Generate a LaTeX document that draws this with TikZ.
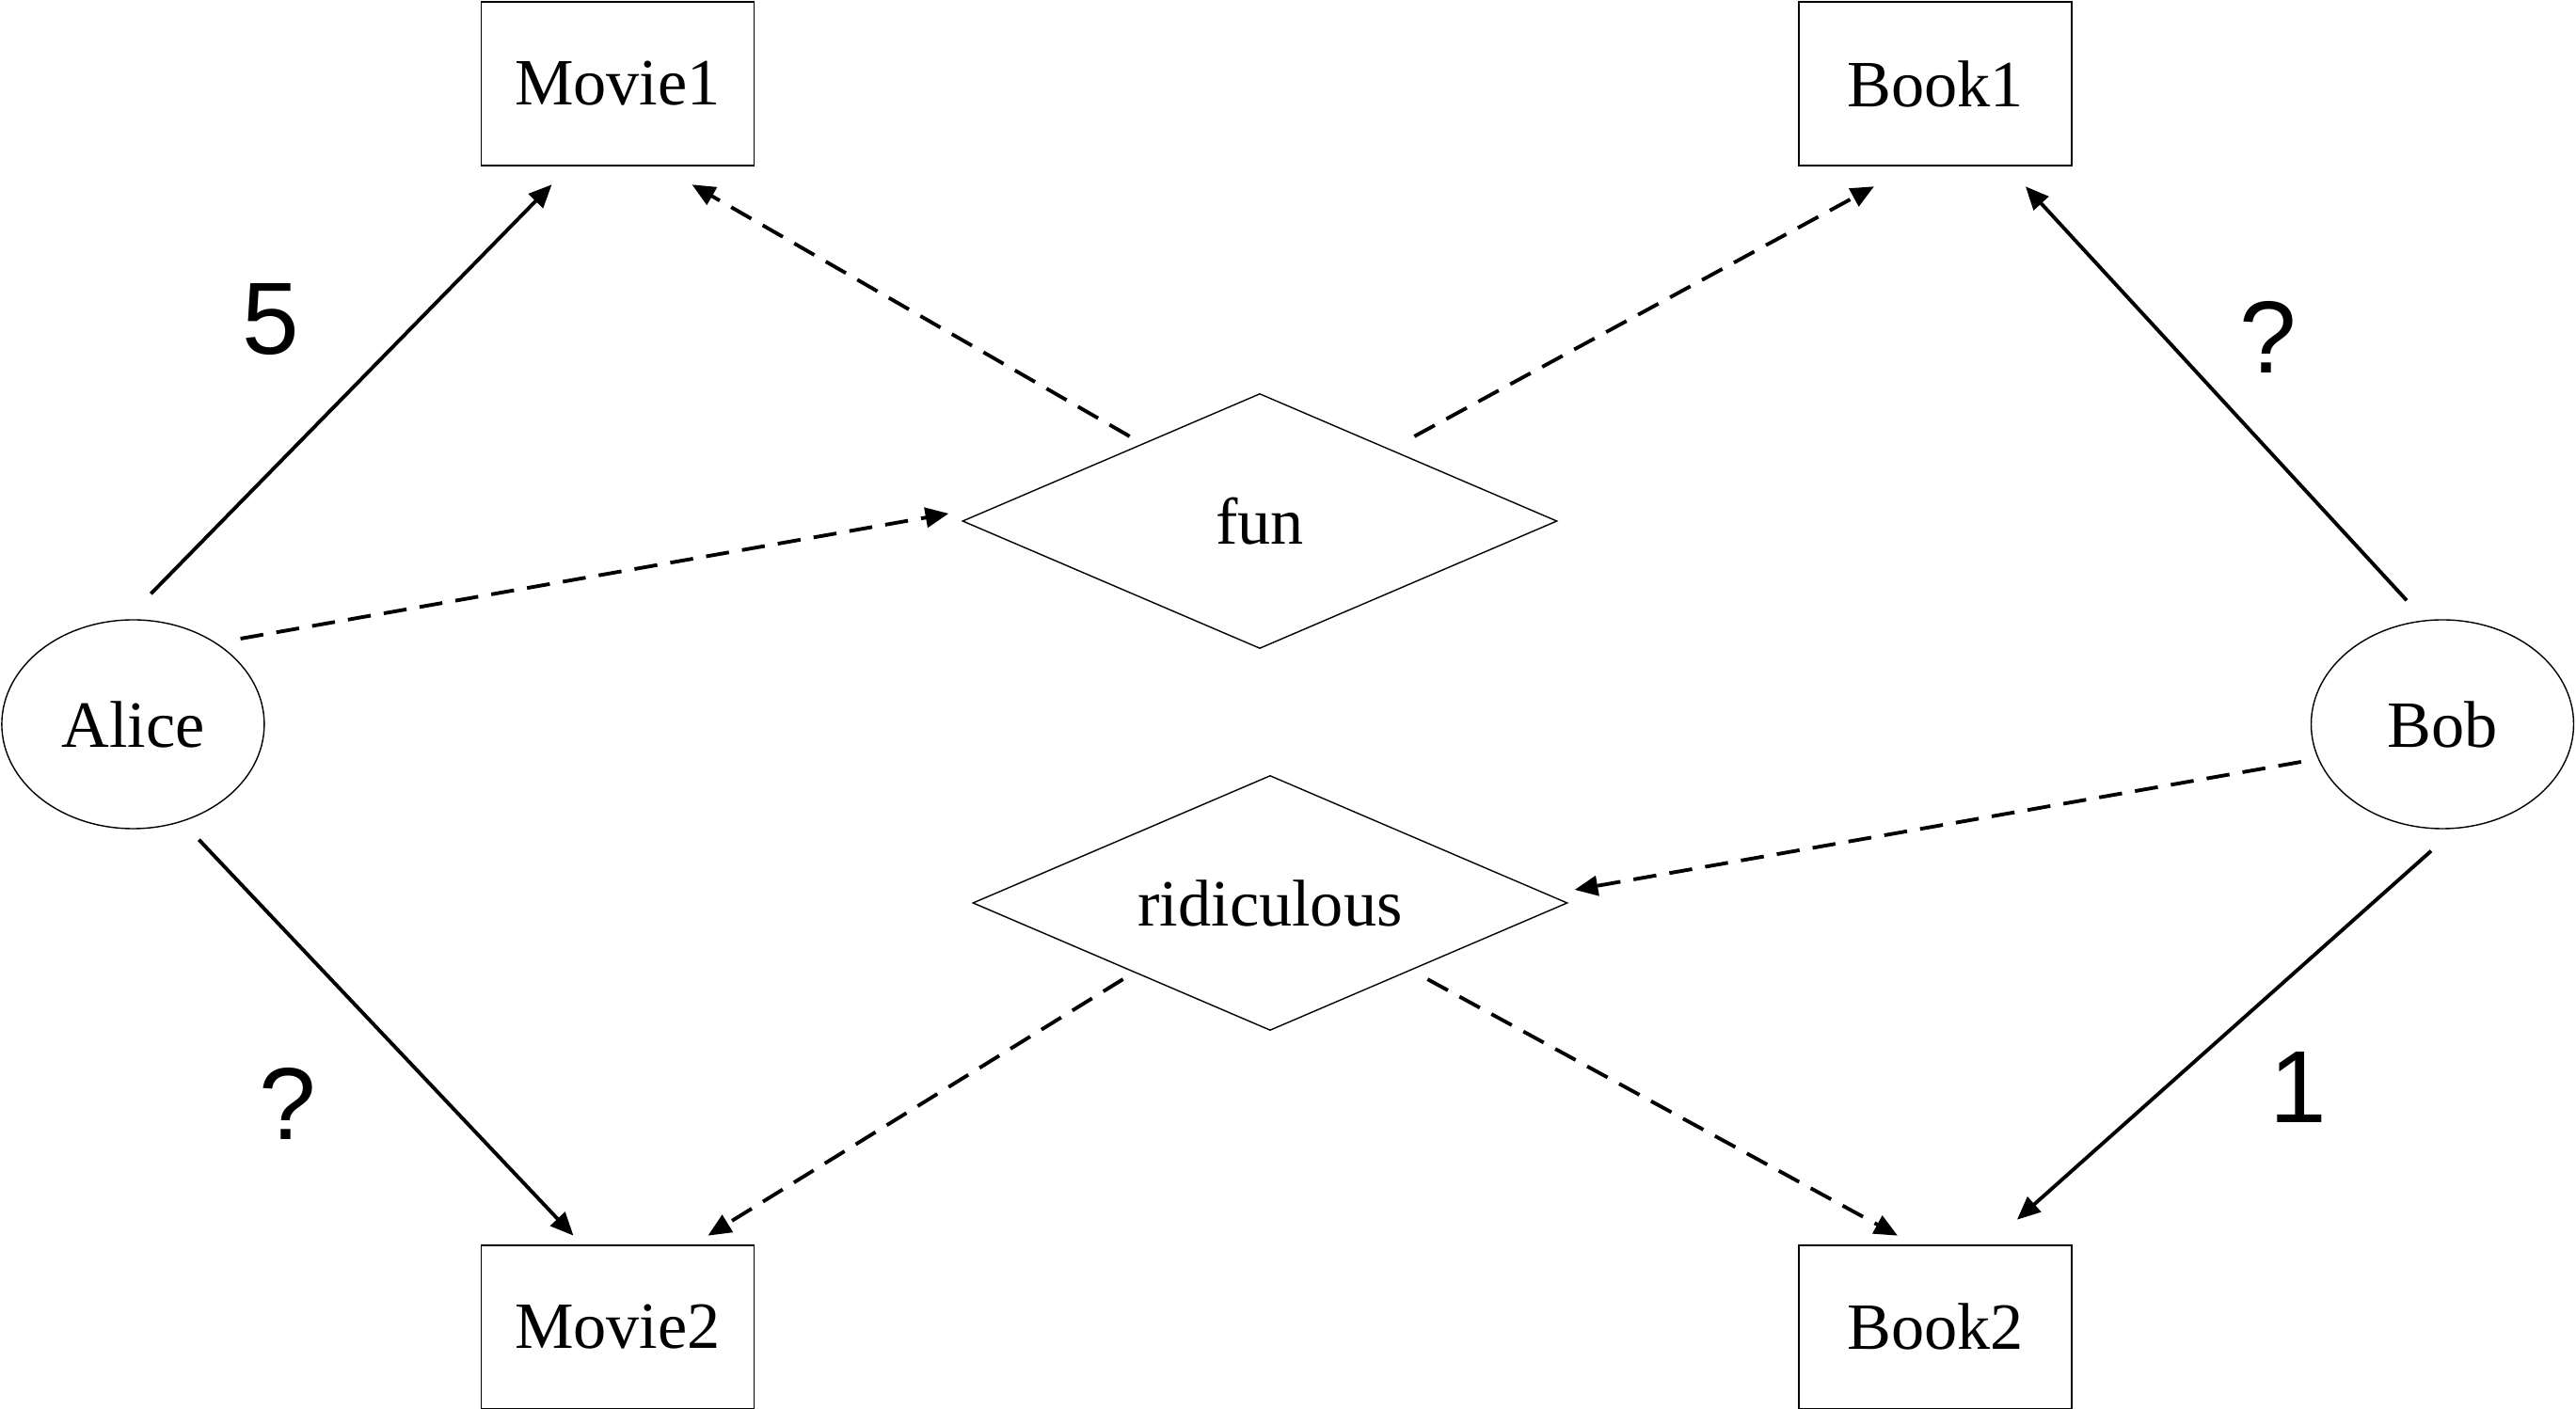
\documentclass[tikz,border=0pt]{standalone}
\usepackage{fontspec}
\setmainfont{Liberation Serif}
\newfontfamily\numfont{Liberation Sans}
\usetikzlibrary{arrows.meta,positioning,shapes.geometric}

\begin{document}
\begin{tikzpicture}[
    >={Triangle[length=7pt,width=6pt]},
    every node/.style={font=\fontsize{20}{24}\selectfont},
    item/.style={draw, line width=0.55pt, minimum width=2.9cm, minimum height=1.746cm, inner sep=0pt},
    user/.style={ellipse, draw, line width=0.4pt, minimum width=2.79cm, minimum height=2.22cm, inner sep=0pt},
    tag/.style={diamond, draw, line width=0.4pt, aspect=2.33, minimum width=6.32cm, minimum height=2.71cm, inner sep=0pt},
    rating/.style={font=\numfont\fontsize{31}{36}\selectfont},
    rated/.style={->, line width=1.1pt},
    tagged/.style={->, line width=1.1pt, dash pattern=on 7pt off 4pt}
]
\useasboundingbox (0,0) rectangle (27.38,14.98);

% items
\node[item] (movie1) at (6.565,14.09) {Movie1};
\node[item, right=11.085cm of movie1] (book1) {Book1};
\node[item, below=11.454cm of movie1] (movie2) {Movie2};
\node[item, below=11.454cm of book1] (book2) {Book2};

% users
\node[user] (alice) at (1.414,7.28) {Alice};
\node[user] (bob) at (25.96,7.28) {Bob};

% tags
\node[tag] (fun) at (13.39,9.44) {fun};
\node[tag] (ridiculous) at (13.50,5.38) {ridiculous};

% ratings
\node[rating] (r5) at (2.88,11.58) {5};
\node[rating] (rq1) at (24.11,11.40) {?};
\node[rating] (rq2) at (3.06,3.25) {?};
\node[rating] (r1) at (24.43,3.42) {1};

% rated edges
\draw[rated] ([xshift=0.19cm,yshift=0.27cm]alice.north) -- ([xshift=-0.70cm,yshift=-0.19cm]movie1.south);
\draw[rated] ([xshift=0.70cm,yshift=-0.11cm]alice.south) -- ([xshift=-0.47cm,yshift=0.09cm]movie2.north);
\draw[rated] ([xshift=-0.38cm,yshift=0.20cm]bob.north) -- ([xshift=0.96cm,yshift=-0.21cm]book1.south);
\draw[rated] ([xshift=-0.12cm,yshift=-0.23cm]bob.south) -- ([xshift=0.87cm,yshift=0.26cm]book2.north);

% tag edges
\draw[tagged] ([xshift=-0.26cm,yshift=0.91cm]alice.east) -- ([xshift=-0.14cm,yshift=0.08cm]fun.west);
\draw[tagged] ([xshift=0.20cm,yshift=0.22cm]fun.north west) -- ([xshift=0.79cm,yshift=-0.19cm]movie1.south);
\draw[tagged] ([xshift=0.06cm,yshift=0.22cm]fun.north east) -- ([xshift=-0.65cm,yshift=-0.21cm]book1.south);
\draw[tagged] ([xshift=-0.10cm,yshift=-0.40cm]bob.west) -- ([xshift=0.07cm,yshift=0.14cm]ridiculous.east);
\draw[tagged] ([xshift=0.02cm,yshift=-0.13cm]ridiculous.south west) -- ([xshift=0.96cm,yshift=0.09cm]movie2.north);
\draw[tagged] ([xshift=0.09cm,yshift=-0.13cm]ridiculous.south east) -- ([xshift=-0.40cm,yshift=0.09cm]book2.north);

\end{tikzpicture}
\end{document}
